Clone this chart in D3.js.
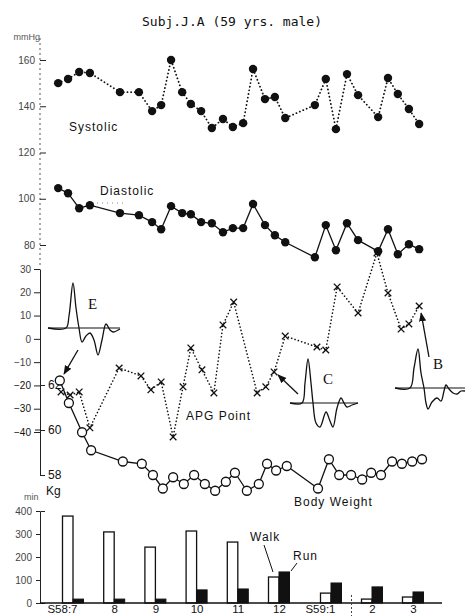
<!DOCTYPE html>
<html>
<head>
<meta charset="utf-8">
<script src="https://cdn.jsdelivr.net/npm/d3@7"></script>
<style>
  body { margin: 0; background: #fff; }
  text { font-family: "Liberation Sans", Arial, sans-serif; fill: #111; }
  .tick text { font-size: 10px; fill: #444; }
  .tick line, .domain { stroke: #222; }
  .lbl { font-size: 12px; letter-spacing: 1px; }
  .serif { font-family: "Liberation Serif", serif; font-size: 15px; }
</style>
</head>
<body>
<div id="chart"></div>
<script>
// ---- data ----
// month units: 0 = S58:7 (Jul 1983) ... 8 = S59:3
var barMonths = [0, 1, 2, 3, 4, 5, 6, 7, 8];
var monthLabels = ["S58:7", "8", "9", "10", "11", "12", "S59:1", "2", "3"];
var walkMin = [378, 309, 243, 313, 265, 113, 43, 17, 26];
var runMin = [17, 17, 17, 57, 61, 135, 87, 70, 48];

var bpMonth = [-0.36, -0.12, 0.15, 0.41, 1.14, 1.60, 1.92, 2.14, 2.38, 2.65, 2.86, 3.11, 3.37, 3.64, 3.88,
  4.13, 4.37, 4.66, 4.90, 5.12, 5.69, 5.90, 6.12, 6.39, 6.66, 7.15, 7.39, 7.63, 7.90, 8.15];
var systolic = [150.0, 151.8, 154.8, 154.4, 146.1, 146.1, 137.9, 140.5, 160.0, 146.1, 141.0, 137.9, 130.6, 134.5, 131.0,
  132.7, 156.1, 143.1, 144.0, 134.9, 140.5, 151.8, 130.1, 153.9, 144.8, 135.3, 152.2, 145.3, 138.8, 132.3];
var diastolic = [104.6, 102.4, 95.9, 97.2, 93.8, 92.9, 89.9, 86.8, 96.8, 93.8, 93.3, 89.9, 89.4, 85.5, 87.3,
  87.3, 97.7, 88.6, 84.2, 81.2, 74.7, 88.6, 77.7, 89.4, 82.1, 77.3, 86.8, 76.0, 80.3, 78.2];

var apgMonth = [-0.29, -0.07, 0.15, 0.41, 1.12, 1.65, 1.89, 2.14, 2.43, 2.67, 2.86, 3.13, 3.42, 3.64, 3.90,
  4.47, 4.68, 4.88, 5.12, 5.73, 5.90, 6.15, 6.66, 7.12, 7.39, 7.71, 7.90, 8.15];
var apg = [-22.8, -24.1, -22.8, -38.2, -12.5, -15.9, -21.9, -18.5, -42.1, -20.6, -3.9, -13.3, -23.2, 6.0, 15.8,
  -23.2, -20.6, -14.2, 1.2, -3.5, -4.8, 22.3, 11.1, 36.9, 19.7, 4.2, 6.4, 14.1];

var wtMonth = [-0.32, -0.10, 0.22, 0.44, 1.21, 1.67, 1.94, 2.18, 2.43, 2.69, 2.94, 3.20, 3.45, 3.71, 3.93, 4.22,
  4.51, 4.71, 4.93, 5.15, 5.75, 5.96, 6.20, 6.49, 6.76, 6.98, 7.22, 7.49, 7.73, 7.98, 8.22];
var weight = [62.2, 61.2, 59.9, 59.1, 58.6, 58.5, 58.0, 57.4, 57.9, 57.6, 58.0, 57.6, 57.3, 57.7, 58.1, 57.3,
  57.6, 58.5, 58.2, 58.4, 57.4, 58.7, 58.0, 58.0, 57.8, 58.1, 58.0, 58.6, 58.5, 58.6, 58.7];

// inset pulse shapes (time, amplitude) for the E, C, B sketches
var waveE = [[0,0],[18,0],[21,12],[25,45],[28,20],[31,0],[34,-14],[38,-8],[42,-5],[46,-12],[50,-27],[54,-12],[58,4],[62,-2],[65,-4],[72,-1]];
var waveC = [[0,0],[12,0],[15,20],[18,44],[21,20],[23,0],[26,-20],[30,-24],[36,-9],[40,-18],[43,-24],[47,-5],[51,5],[54,0],[57,-4],[62,-2],[68,0]];
var waveB = [[0,0],[15,0],[19,20],[23,39],[26,15],[29,0],[31,-15],[33,-21],[37,-14],[42,-10],[46,-13],[49,-3],[51,3],[54,-1],[58,-5],[62,-6],[66,-3],[70,-3]];

// ---- layout ----
var svgWidth = 465, svgHeight = 616;
var axisX = 40;

var svg = d3.select("#chart").append("svg")
  .attr("width", svgWidth)
  .attr("height", svgHeight);

svg.append("rect").attr("width", svgWidth).attr("height", svgHeight).attr("fill", "#fff");

// shared time scale (the year break gets a bit more room)
var x = d3.scaleLinear().domain([0, 5, 6, 8]).range([73, 279, 331, 413]);

var yBP = d3.scaleLinear().domain([80, 160]).range([245, 60]);
var yAPG = d3.scaleLinear().domain([-40, 30]).range([432, 269]);
var yWt = d3.scaleLinear().domain([58, 62]).range([475, 385]);
var yBar = d3.scaleLinear().domain([0, 400]).range([603, 511]);

// title
svg.append("text")
  .attr("x", 232).attr("y", 26)
  .attr("text-anchor", "middle")
  .style("font-family", "'DejaVu Sans Mono', monospace")
  .style("font-size", "13px")
  .text("Subj.J.A (59 yrs. male)");

// ---- blood pressure axis ----
svg.append("line")
  .attr("x1", axisX).attr("x2", axisX).attr("y1", 38).attr("y2", 268)
  .attr("stroke", "#555").attr("stroke-dasharray", "2,3");

svg.append("g")
  .attr("transform", `translate(${axisX},0)`)
  .call(d3.axisLeft(yBP).tickValues([80, 100, 120, 140, 160]).tickSize(-6).tickPadding(5))
  .call(g => g.select(".domain").remove());

svg.append("text").attr("x", 40).attr("y", 40).attr("text-anchor", "end")
  .style("font-size", "9px").style("fill", "#555").text("mmHg");

var pts = bpMonth.map((m, i) => ({m: m, s: systolic[i], d: diastolic[i]}));

// systolic: dotted line + filled dots
svg.append("path")
  .datum(pts)
  .attr("fill", "none").attr("stroke", "#111").attr("stroke-width", 1.8)
  .attr("stroke-dasharray", "0.1,3.6").attr("stroke-linecap", "round")
  .attr("d", d3.line().x(d => x(d.m)).y(d => yBP(d.s)));

svg.selectAll(".sys").data(pts).enter().append("circle")
  .attr("class", "sys")
  .attr("cx", d => x(d.m)).attr("cy", d => yBP(d.s))
  .attr("r", 4.2).attr("fill", "#111");

// diastolic: solid line + filled dots
svg.append("path")
  .datum(pts)
  .attr("fill", "none").attr("stroke", "#111").attr("stroke-width", 1.3)
  .attr("d", d3.line().x(d => x(d.m)).y(d => yBP(d.d)));

svg.selectAll(".dia").data(pts).enter().append("circle")
  .attr("class", "dia")
  .attr("cx", d => x(d.m)).attr("cy", d => yBP(d.d))
  .attr("r", 4.2).attr("fill", "#111");

svg.append("text").attr("class", "lbl").attr("x", 69).attr("y", 131).text("Systolic");
svg.append("text").attr("class", "lbl").attr("x", 100).attr("y", 195).text("Diastolic");
svg.append("line").attr("x1", 97).attr("x2", 126).attr("y1", 203).attr("y2", 203)
  .attr("stroke", "#888").attr("stroke-dasharray", "1,4");

// ---- APG axis and body weight axis (same vertical line) ----
svg.append("g")
  .attr("transform", `translate(${axisX},0)`)
  .call(d3.axisLeft(yAPG).tickValues([-40, -30, -20, -10, 0, 10, 20, 30]).tickSize(6).tickSizeOuter(0))
  .call(g => g.selectAll(".tick text").filter(d => d <= -20).style("fill", "#111"));

svg.append("g")
  .attr("transform", `translate(${axisX},0)`)
  .call(d3.axisRight(yWt).tickValues([58, 60, 62]).tickFormat(d3.format("d"))
    .tickSize(5).tickSizeOuter(5).tickPadding(3))
  .call(g => g.selectAll(".tick text").style("font-size", "12px").style("fill", "#111"));

svg.append("line").attr("x1", axisX - 5).attr("x2", axisX).attr("y1", yWt(60)).attr("y2", yWt(60)).attr("stroke", "#222");
svg.append("text").attr("x", 46).attr("y", 495).style("font-size", "12px").text("Kg");

// APG: dotted line + x markers
var apgPts = apgMonth.map((m, i) => ({m: m, v: apg[i]}));

svg.append("path")
  .datum(apgPts)
  .attr("fill", "none").attr("stroke", "#111").attr("stroke-width", 1.6)
  .attr("stroke-dasharray", "0.1,3.4").attr("stroke-linecap", "round")
  .attr("d", d3.line().x(d => x(d.m)).y(d => yAPG(d.v)));

svg.selectAll(".apg").data(apgPts).enter().append("path")
  .attr("class", "apg")
  .attr("transform", d => `translate(${x(d.m)},${yAPG(d.v)})`)
  .attr("d", d3.symbol(d3.symbolX, 30))
  .attr("fill", "none").attr("stroke", "#111").attr("stroke-width", 1.3);

svg.append("text").attr("class", "lbl").attr("x", 186).attr("y", 420).text("APG Point");

// body weight: solid line + open circles
var wtPts = wtMonth.map((m, i) => ({m: m, v: weight[i]}));

svg.append("path")
  .datum(wtPts)
  .attr("fill", "none").attr("stroke", "#111").attr("stroke-width", 1.3)
  .attr("d", d3.line().x(d => x(d.m)).y(d => yWt(d.v)));

svg.selectAll(".wt").data(wtPts).enter().append("circle")
  .attr("class", "wt")
  .attr("cx", d => x(d.m)).attr("cy", d => yWt(d.v))
  .attr("r", 4.5).attr("fill", "#fff").attr("stroke", "#111").attr("stroke-width", 1.3);

svg.append("text").attr("class", "lbl").attr("x", 294).attr("y", 506).text("Body Weight");

// ---- pulse sketches ----
svg.append("defs").append("marker")
  .attr("id", "arr").attr("viewBox", "0 0 10 10").attr("refX", 9).attr("refY", 5)
  .attr("markerWidth", 7).attr("markerHeight", 7).attr("orient", "auto")
  .append("path").attr("d", "M0,1L10,5L0,9Z").attr("fill", "#111");

function drawWave(data, x0, y0, label, lx, ly) {
  var tx = d3.scaleLinear().domain([0, 1]).range([x0, x0 + 1]);
  var ty = d3.scaleLinear().domain([0, 1]).range([y0, y0 - 1]);
  var w = d3.max(data, d => d[0]);
  svg.append("line").attr("x1", tx(0)).attr("x2", tx(w)).attr("y1", ty(0)).attr("y2", ty(0))
    .attr("stroke", "#111").attr("stroke-width", 1.1);
  svg.append("path").datum(data)
    .attr("fill", "none").attr("stroke", "#111").attr("stroke-width", 1.3)
    .attr("d", d3.line().curve(d3.curveCatmullRom).x(d => tx(d[0])).y(d => ty(d[1])));
  svg.append("text").attr("class", "serif").attr("x", lx).attr("y", ly).text(label);
}

drawWave(waveE, 48, 328, "E", 88, 309);
drawWave(waveC, 290, 403, "C", 323, 384);
drawWave(waveB, 395, 388, "B", 433, 369);

function arrow(x1, y1, x2, y2) {
  svg.append("line").attr("x1", x1).attr("y1", y1).attr("x2", x2).attr("y2", y2)
    .attr("stroke", "#111").attr("stroke-width", 1.3).attr("marker-end", "url(#arr)");
}
arrow(78, 350, x(apgMonth[0]) + 3, yAPG(apg[0]) - 18);
arrow(298, 394, x(apgMonth[17]) + 4, yAPG(apg[17]) + 3);
arrow(429, 357, x(apgMonth[27]) + 2, yAPG(apg[27]) + 7);

// ---- exercise bars ----
var barW = 10.5;

svg.append("g")
  .attr("transform", `translate(${axisX},0)`)
  .call(d3.axisLeft(yBar).tickValues([0, 100, 200, 300, 400]).tickSizeInner(4).tickSizeOuter(-5).tickPadding(4));

svg.append("text").attr("x", 24).attr("y", 500).style("font-size", "9px").style("fill", "#555").text("min");

svg.selectAll(".walk").data(barMonths).enter().append("rect")
  .attr("class", "walk")
  .attr("x", d => x(d) - barW).attr("width", barW)
  .attr("y", (d, i) => yBar(walkMin[i])).attr("height", (d, i) => yBar(0) - yBar(walkMin[i]))
  .attr("fill", "#fff").attr("stroke", "#111").attr("stroke-width", 1.3);

svg.selectAll(".run").data(barMonths).enter().append("rect")
  .attr("class", "run")
  .attr("x", d => x(d)).attr("width", barW)
  .attr("y", (d, i) => yBar(runMin[i])).attr("height", (d, i) => yBar(0) - yBar(runMin[i]))
  .attr("fill", "#111").attr("stroke", "#111").attr("stroke-width", 1);

svg.append("line").attr("x1", axisX).attr("x2", 442).attr("y1", yBar(0)).attr("y2", yBar(0))
  .attr("stroke", "#111").attr("stroke-width", 1.5);

svg.append("g")
  .attr("transform", `translate(0,${yBar(0)})`)
  .call(d3.axisBottom(x).tickValues(barMonths).tickFormat((d, i) => monthLabels[i]).tickSize(0).tickPadding(2))
  .call(g => g.select(".domain").remove())
  .call(g => g.selectAll(".tick text").style("font-size", "11.5px").style("fill", "#111")
    .filter((d, i) => monthLabels[i].indexOf(":") > 0)
    .attr("text-anchor", "end").attr("dx", "4"));

svg.append("line").attr("x1", x(6.5)).attr("x2", x(6.5)).attr("y1", 595).attr("y2", 616)
  .attr("stroke", "#444").attr("stroke-dasharray", "2,2");

svg.append("text").attr("class", "lbl").attr("x", 250).attr("y", 541).text("Walk");
svg.append("line").attr("x1", 264).attr("y1", 545).attr("x2", 273).attr("y2", 572).attr("stroke", "#111");
svg.append("text").attr("class", "lbl").attr("x", 293).attr("y", 560).text("Run");
svg.append("line").attr("x1", 297).attr("y1", 563).attr("x2", 291).attr("y2", 571).attr("stroke", "#111");
</script>
</body>
</html>
